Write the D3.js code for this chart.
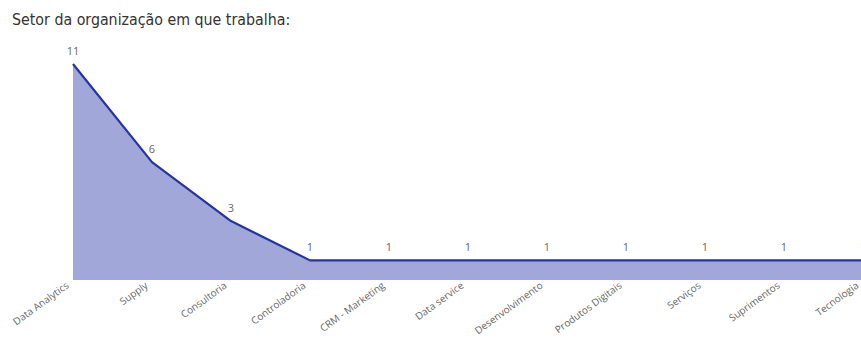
<!DOCTYPE html>
<html>
<head>
<meta charset="utf-8">
<script src="https://cdn.jsdelivr.net/npm/d3@7"></script>
<style>
  html, body { margin: 0; padding: 0; background: #fff; overflow: hidden; }
  svg { display: block; }
</style>
</head>
<body>
<svg id="chart" width="861" height="338"></svg>
<script>
const title = "Setor da organização em que trabalha:";
const categories = ["Data Analytics", "Supply", "Consultoria", "Controladoria", "CRM - Marketing",
  "Data service", "Desenvolvimento", "Produtos Digitais", "Serviços", "Suprimentos", "Tecnologia"];
const counts = [11, 6, 3, 1, 1, 1, 1, 1, 1, 1, 1];

const data = categories.map((c, i) => ({ cat: c, value: counts[i] }));

const svg = d3.select("#chart");

svg.append("text")
  .attr("x", 12).attr("y", 25)
  .attr("font-family", "'DejaVu Sans Condensed', 'Roboto', sans-serif")
  .attr("font-size", 15.8)
  .attr("fill", "#333")
  .text(title);

const x = d3.scalePoint().domain(categories).range([73, 863]);
const y = d3.scaleLinear().domain([0, 11]).range([280, 64]);

const area = d3.area()
  .x(d => x(d.cat)).y0(y(0)).y1(d => y(d.value));
const line = d3.line()
  .x(d => x(d.cat)).y(d => y(d.value));

svg.append("path").datum(data)
  .attr("d", area)
  .attr("fill", "#a1a7d9");

svg.append("path").datum(data)
  .attr("d", line)
  .attr("fill", "none")
  .attr("stroke", "#2633a6")
  .attr("stroke-width", 2.2)
  .attr("stroke-linejoin", "round");

// value labels above each point
svg.append("g").selectAll("text").data(data).join("text")
  .attr("x", d => x(d.cat))
  .attr("y", d => y(d.value) - 9)
  .attr("text-anchor", "middle")
  .attr("font-family", "'Open Sans', sans-serif")
  .attr("font-size", 11)
  .attr("fill", "#666")
  .text(d => d.value);

// category axis with slanted labels
const axis = d3.axisBottom(x).tickSize(0).tickPadding(0);
const gx = svg.append("g").attr("transform", `translate(0, ${y(0)})`).call(axis);
gx.select(".domain").remove();
gx.selectAll("text")
  .attr("font-family", "'Open Sans', sans-serif")
  .attr("font-size", 10)
  .attr("fill", "#666")
  .attr("text-anchor", "end")
  .attr("dy", null)
  .attr("y", 0)
  .attr("transform", "translate(-4, 7) rotate(-36)");
</script>
</body>
</html>
